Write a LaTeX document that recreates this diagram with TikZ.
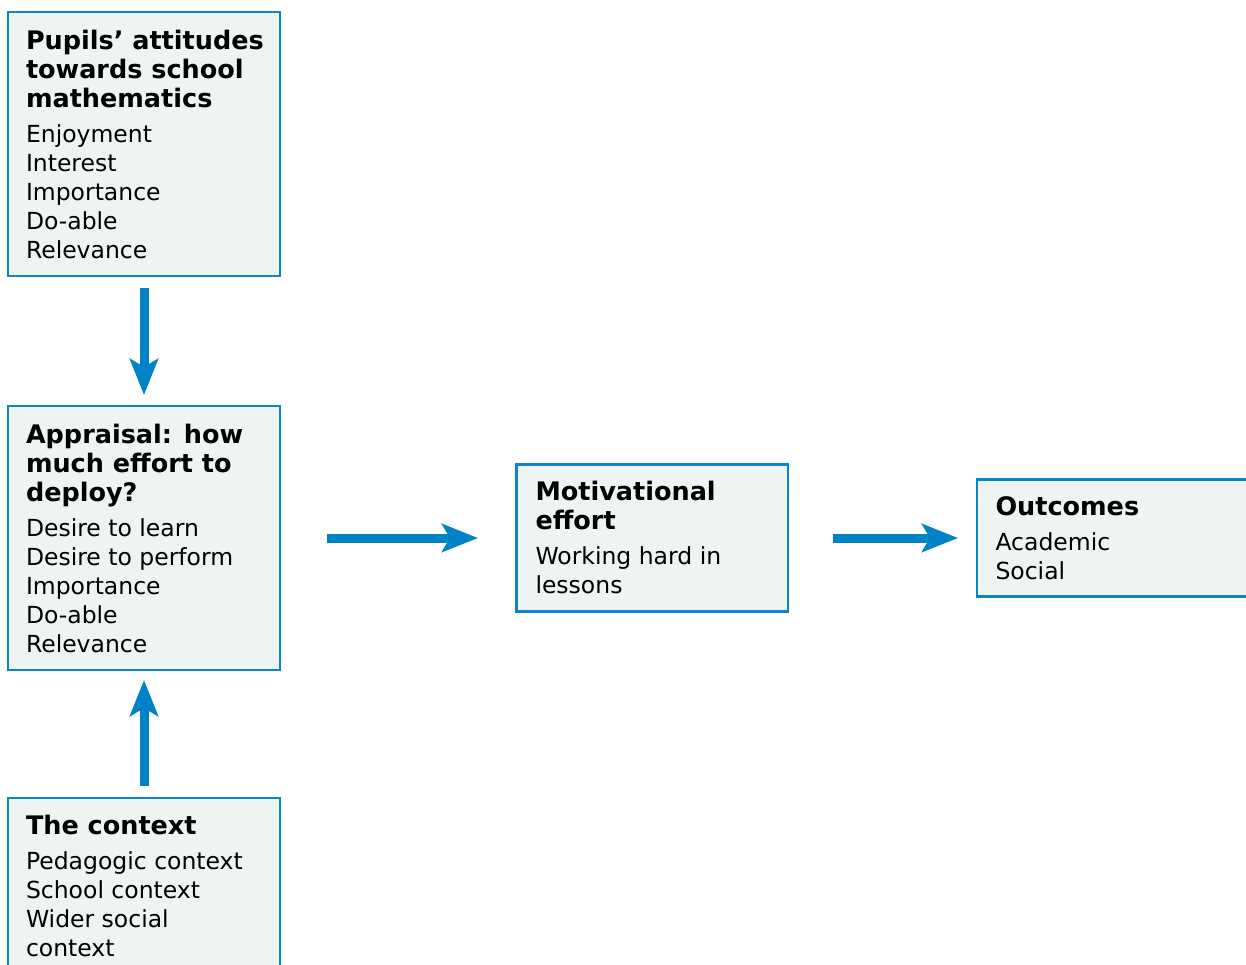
\documentclass[tikz,border=0pt]{standalone}
\usepackage{fontspec}
\setmainfont{DejaVu Sans}
\usetikzlibrary{arrows.meta}
\definecolor{boxblue}{RGB}{10,133,199}
\definecolor{boxfill}{RGB}{238,243,244}
\definecolor{arrowblue}{RGB}{0,131,198}
\newcommand{\mytitle}{\fontsize{25.5}{29}\selectfont\bfseries}
\newcommand{\mybody}{\fontsize{23.5}{29.2}\selectfont\mdseries}
\newcommand{\boxtext}[2]{\parbox[t]{262pt}{\raggedright\mytitle #1\par\vspace{5.8pt}\mybody #2}}
\tikzset{
  box/.style={draw=boxblue, fill=boxfill, line width=2.8pt, anchor=north west, inner sep=0pt, outer sep=0pt},
  txt/.style={anchor=base west, inner sep=0pt, outer sep=0pt},
  flow/.style={draw=arrowblue, line width=9pt, -{Stealth[length=36pt,width=28pt,inset=8pt]}},
}
\begin{document}
\begin{tikzpicture}[x=1pt,y=-1pt]
\useasboundingbox (0,0) rectangle (1246,964);
\clip (0,0) rectangle (1246,964);
% boxes
\node[box, minimum width=272pt, minimum height=264pt] (b1) at (8,12) {};
\node[box, minimum width=272pt, minimum height=264pt] (b2) at (8,406) {};
\node[box, minimum width=272pt, minimum height=230pt] (b3) at (8,798) {};
\node[box, minimum width=271.5pt, minimum height=147pt] (b4) at (516.5,464.5) {};
\node[box, minimum width=300pt, minimum height=117pt] (b5) at (977,479.5) {};
% texts
\node[txt] (t1) at (26,49) {\boxtext{Pupils’ attitudes\\towards school\\mathematics}{Enjoyment\\Interest\\Importance\\Do-able\\Relevance}};
\node[txt] (t2) at (26,443) {\boxtext{Appraisal: how\\much effort to\\deploy?}{Desire to learn\\Desire to perform\\Importance\\Do-able\\Relevance}};
\node[txt] (t3) at (26,834.3) {\boxtext{The context}{Pedagogic context\\School context\\Wider social\\context}};
\node[txt] (t4) at (535.5,500) {\boxtext{Motivational\\effort}{Working hard in\\lessons}};
\node[txt] (t5) at (995.5,515.7) {\boxtext{Outcomes}{Academic\\Social}};
% arrows
\draw[flow] ([yshift=-12pt]b1.south) -- ([yshift=11pt]b2.north);
\draw[flow] ([yshift=12pt]b3.north) -- ([yshift=-10pt]b2.south);
\draw[flow] ([xshift=47pt]b2.east) -- ([xshift=-38.5pt]b4.west);
\draw[flow] ([xshift=45pt]b4.east) -- ([xshift=-19pt]b5.west);
\end{tikzpicture}
\end{document}
